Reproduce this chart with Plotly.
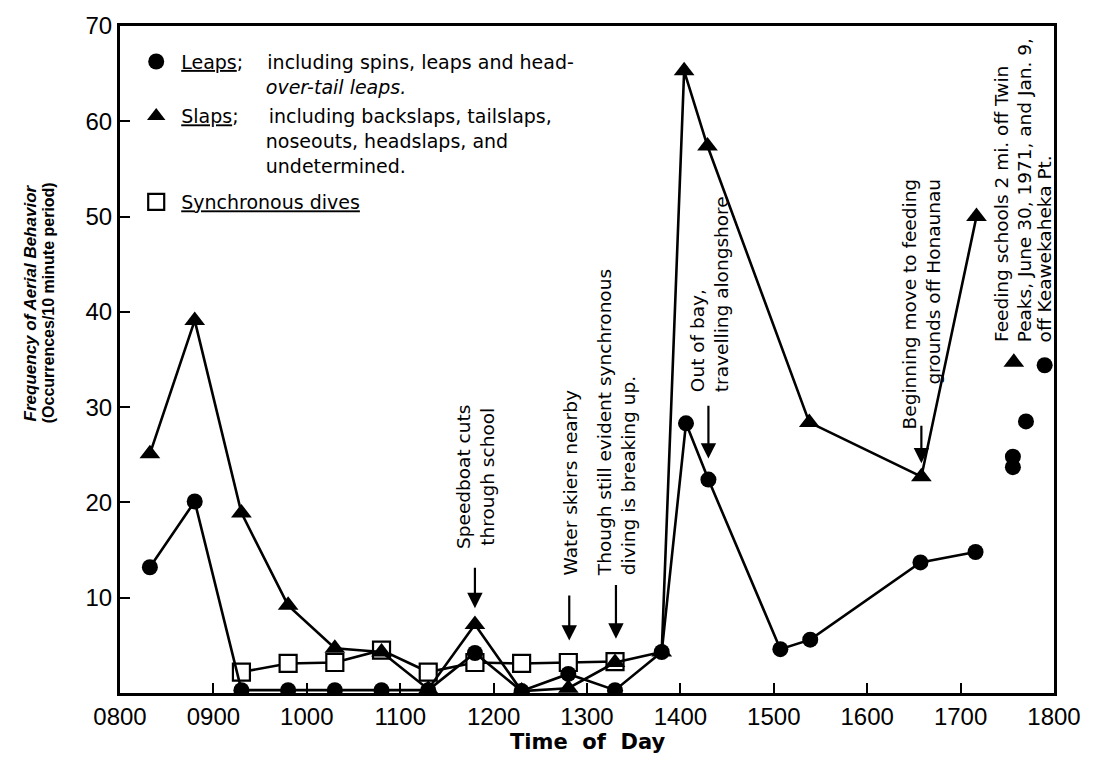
import plotly.graph_objects as go

# ---- data (time of day as HHMM number, frequency per 10 min) ----
leap_t = [832, 880, 930, 980, 1030, 1080, 1130, 1180, 1230, 1280, 1330, 1380, 1406, 1430, 1507, 1539, 1657, 1716]
leap_v = [13.2, 20.1, 0.3, 0.3, 0.3, 0.3, 0.3, 4.2, 0.2, 2.0, 0.3, 4.3, 28.3, 22.4, 4.6, 5.6, 13.7, 14.8]

slap_t = [832, 880, 930, 980, 1030, 1080, 1130, 1180, 1230, 1280, 1330, 1380, 1404, 1429, 1538, 1658, 1717]
slap_v = [25.1, 39.1, 18.9, 9.2, 4.7, 4.3, 0.4, 7.2, 0.2, 0.5, 3.2, 4.3, 65.3, 57.4, 28.4, 22.7, 50.0]

sync_t = [930, 980, 1030, 1080, 1130, 1180, 1230, 1280, 1330]
sync_v = [2.2, 3.1, 3.2, 4.5, 2.2, 3.2, 3.1, 3.2, 3.3]

# isolated points: feeding schools off Twin Peaks / Keawekaheka Pt.
feed_leap_t = [1756, 1756, 1770, 1790]
feed_leap_v = [24.8, 23.7, 28.5, 34.4]
feed_slap_t = [1757]
feed_slap_v = [34.7]

x_tickvals = [800, 900, 1000, 1100, 1200, 1300, 1400, 1500, 1600, 1700, 1800]
x_ticktext = ["0800", "0900", "1000", "1100", "1200", "1300", "1400", "1500", "1600", "1700", "1800"]
y_tickvals = [10, 20, 30, 40, 50, 60, 70]

# ---- styling ----
BLACK = "#000000"
ANN_FONT = dict(family="DejaVu Sans", size=18.5, color=BLACK)
LEG_FONT = dict(family="DejaVu Sans", size=19, color=BLACK)
LINE = dict(color=BLACK, width=2.6)
circle = dict(symbol="circle", size=16, color=BLACK)
tri = dict(symbol="triangle-up", size=18, color=BLACK)
sq = dict(symbol="square", size=17, color="white", line=dict(color=BLACK, width=2.2))

fig = go.Figure()
fig.add_trace(go.Scatter(x=sync_t, y=sync_v, mode="lines+markers", line=LINE, marker=sq, showlegend=False))
fig.add_trace(go.Scatter(x=slap_t, y=slap_v, mode="lines+markers", line=LINE, marker=tri, showlegend=False))
fig.add_trace(go.Scatter(x=leap_t, y=leap_v, mode="lines+markers", line=LINE, marker=circle, showlegend=False))
fig.add_trace(go.Scatter(x=feed_leap_t, y=feed_leap_v, mode="markers", marker=circle, showlegend=False))
fig.add_trace(go.Scatter(x=feed_slap_t, y=feed_slap_v, mode="markers", marker=tri, showlegend=False))

nb = "\u00a0"
leg_leaps = "<u>Leaps</u>;" + nb * 4 + "including spins, leaps and head-<br>" + nb * 14 + "<i>over-tail leaps.</i>"
leg_slaps = ("<u>Slaps</u>;" + nb * 5 + "including backslaps, tailslaps,<br>" + nb * 14 +
             "noseouts, headslaps, and<br>" + nb * 14 + "undetermined.")
leg_sync = "<u>Synchronous dives</u>"
fig.add_trace(go.Scatter(x=[None], y=[None], mode="markers", marker=circle, name=leg_leaps,
                         legendgroup="a", legend="legend"))
fig.add_trace(go.Scatter(x=[None], y=[None], mode="markers", marker=tri, name=leg_slaps,
                         legendgroup="b", legend="legend"))
fig.add_trace(go.Scatter(x=[None], y=[None], mode="markers", marker=sq, name=leg_sync,
                         legendgroup="c", legend="legend2"))

# ---- event annotations (rotated text + arrows) ----
notes = [
    dict(text="Speedboat cuts<br>through school", x=1180, y=14.9, yanchor="bottom", align="center"),
    dict(text="Water skiers nearby", x=1282, y=12.1, yanchor="bottom", align="left"),
    dict(text="Though still evident synchronous<br>diving is breaking up.", x=1331, y=12.1, yanchor="bottom", align="left"),
    dict(text="Out of bay,<br>travelling alongshore", x=1431, y=31.4, yanchor="bottom", align="left"),
    dict(text="Beginning move to feeding<br>grounds off Honaunau", x=1658, y=54.2, yanchor="top", align="right"),
    dict(text="Feeding schools 2 mi. off Twin", x=1744, y=36.6, yanchor="bottom", align="left"),
    dict(text="Peaks, June 30, 1971, and Jan. 9,", x=1768, y=36.6, yanchor="bottom", align="left"),
    dict(text="off Keawekaheka Pt.", x=1790, y=36.6, yanchor="bottom", align="left"),
]
for n in notes:
    fig.add_annotation(text=n["text"], x=n["x"], y=n["y"], xref="x", yref="y", xanchor="center",
                       yanchor=n["yanchor"], align=n["align"], textangle=-90, showarrow=False, font=ANN_FONT)

arrows = [(1180, 13.3, 8.9), (1281, 10.4, 5.5), (1331, 11.5, 5.7), (1430, 30.3, 24.6), (1658, 28.2, 24.1)]
for ax_, y0, y1 in arrows:
    fig.add_annotation(x=ax_, y=y1, ax=ax_, ay=y0, xref="x", yref="y", axref="x", ayref="y", text="",
                       showarrow=True, arrowhead=2, arrowsize=1.4, arrowwidth=2.2, arrowcolor=BLACK, standoff=0)

# ---- axis titles ----
fig.add_annotation(text="<b><i>Frequency of Aerial Behavior</i></b>", x=-0.0957, y=0.585, xref="paper", yref="paper",
                   textangle=-90, showarrow=False, xanchor="center", yanchor="middle",
                   font=dict(family="Liberation Sans", size=17, color=BLACK))
fig.add_annotation(text="<b>(Occurrences/10 minute period)</b>", x=-0.0766, y=0.585, xref="paper", yref="paper",
                   textangle=-90, showarrow=False, xanchor="center", yanchor="middle",
                   font=dict(family="Liberation Sans", size=16, color=BLACK))
fig.add_annotation(text="<b>Time\u00a0 of\u00a0 Day</b>", x=0.5, y=-0.074, xref="paper", yref="paper",
                   showarrow=False, xanchor="center", yanchor="middle",
                   font=dict(family="DejaVu Sans", size=21, color=BLACK))

fig.update_layout(
    width=1093, height=760,
    margin=dict(l=120, r=33, t=22, b=67),
    paper_bgcolor="white", plot_bgcolor="white",
    showlegend=True,
    legend=dict(x=0.012, y=0.975, xanchor="left", yanchor="top", bgcolor="rgba(0,0,0,0)",
                font=LEG_FONT, valign="top", tracegroupgap=2, traceorder="grouped", itemwidth=40),
    legend2=dict(x=0.012, y=0.7645, xanchor="left", yanchor="top", bgcolor="rgba(0,0,0,0)",
                 font=LEG_FONT, valign="top", itemwidth=40),
    xaxis=dict(range=[800, 1800], tickvals=x_tickvals, ticktext=x_ticktext, ticks="inside", ticklen=10,
               tickwidth=2, tickcolor=BLACK, showline=True, linecolor=BLACK, linewidth=3, mirror=True,
               showgrid=False, zeroline=False,
               tickfont=dict(family="Liberation Sans", size=24, color=BLACK)),
    yaxis=dict(range=[0, 70], tickvals=y_tickvals, ticks="inside", ticklen=10, tickwidth=2, tickcolor=BLACK,
               showline=True, linecolor=BLACK, linewidth=3, mirror=True, showgrid=False, zeroline=False,
               tickfont=dict(family="Liberation Sans", size=24, color=BLACK)),
)

fig.write_html("out.html", config={"displayModeBar": False}, post_script="document.body.style.margin='0';")
